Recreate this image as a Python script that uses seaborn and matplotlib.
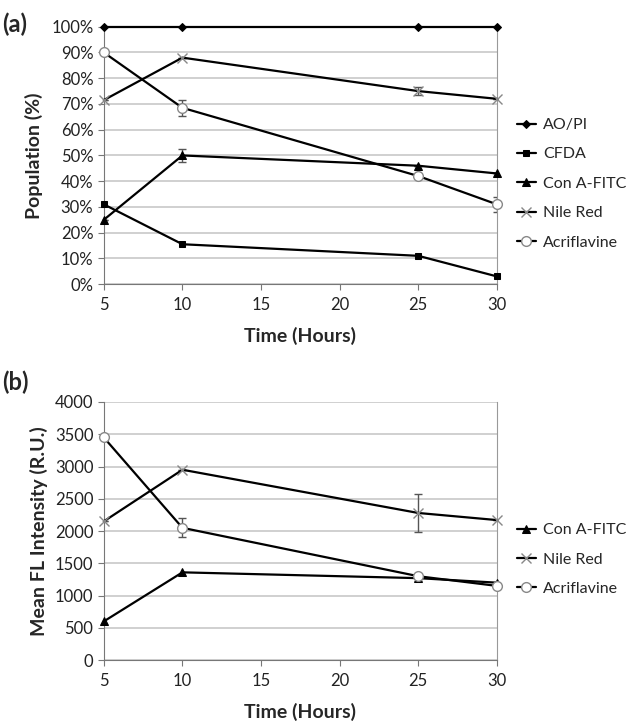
import numpy as np
import matplotlib
matplotlib.use('Agg')
import matplotlib.pyplot as plt
import pandas as pd
import seaborn as sns

hours = [5, 10, 25, 30]

# panel (a): population (%)
pop_aopi = [100, 100, 100, 100]
pop_cfda = [31, 15.5, 11, 3]
pop_cona = [25, 50, 46, 43]
pop_nile = [71.5, 88, 75, 72]
pop_acri = [90, 68.5, 42, 31]
pop_err_cona = [0, 2.5, 0, 0]
pop_err_nile = [0, 0, 1.5, 0]
pop_err_acri = [0, 3, 0, 3]

# panel (b): mean FL intensity (R.U.)
fl_cona = [600, 1360, 1270, 1200]
fl_nile = [2150, 2950, 2280, 2170]
fl_acri = [3450, 2050, 1300, 1150]
fl_err_nile = [0, 0, 300, 0]
fl_err_acri = [0, 150, 0, 0]

sns.set_style('white')
plt.rcParams['font.family'] = ['Lato', 'DejaVu Sans']

STYLE = {
    'AO/PI': dict(marker='D', markersize=4, mfc='black', mec='black'),
    'CFDA': dict(marker='s', markersize=5, mfc='black', mec='black'),
    'Con A-FITC': dict(marker='^', markersize=6, mfc='black', mec='black'),
    'Nile Red': dict(marker='x', markersize=7, mfc='none', mec='#888888', mew=1),
    'Acriflavine': dict(marker='o', markersize=7, mfc='white', mec='#888888', mew=1),
}

fig = plt.figure(figsize=(6.33, 7.23), dpi=100)
ax1 = fig.add_axes([0.164, 0.607, 0.621, 0.356])
ax2 = fig.add_axes([0.164, 0.087, 0.621, 0.357])


def draw(ax, series, errs):
    for name, vals in series.items():
        df = pd.DataFrame({'x': hours, 'y': vals})
        sns.lineplot(data=df, x='x', y='y', ax=ax, color='black', lw=1.6,
                     label=name, zorder=3, clip_on=False, **STYLE[name])
        if name in errs:
            e = np.array(errs[name], dtype=float)
            ax.errorbar(hours, vals, yerr=e, fmt='none', ecolor='#555555',
                        elinewidth=1, capsize=3, zorder=2)
    ax.set_xlim(5, 30)
    ax.set_xticks([5, 10, 15, 20, 25, 30])
    ax.grid(axis='y', color='#c8c8c8', lw=1.2)
    ax.grid(axis='x', visible=False)
    ax.spines['top'].set_visible(False)
    ax.spines['right'].set_color('#999999')
    ax.spines['left'].set_color('#777777')
    ax.spines['bottom'].set_color('#777777')
    ax.tick_params(axis='both', direction='out', length=4, color='#777777',
                   labelsize=12, bottom=True, left=True)
    ax.tick_params(axis='x', pad=5)
    ax.set_xlabel('Time (Hours)', fontsize=14, fontweight='bold', labelpad=10)
    for l in ax.get_xticklabels() + ax.get_yticklabels():
        l.set_color('#222222')
    ax.legend(loc='center left', bbox_to_anchor=(1.03, 0.39), frameon=False,
              fontsize=11.5, handlelength=1.2, labelspacing=0.95,
              handletextpad=0.45, borderaxespad=0.4, borderpad=0.1)


draw(ax1, {'AO/PI': pop_aopi, 'CFDA': pop_cfda, 'Con A-FITC': pop_cona,
           'Nile Red': pop_nile, 'Acriflavine': pop_acri},
     {'Con A-FITC': pop_err_cona, 'Nile Red': pop_err_nile,
      'Acriflavine': pop_err_acri})
ax1.set_ylim(0, 100)
ax1.set_yticks(np.arange(0, 101, 10))
ax1.set_yticklabels([f'{v}%' for v in range(0, 101, 10)])
ax1.set_ylabel('Population (%)', fontsize=14, fontweight='bold', labelpad=6)

draw(ax2, {'Con A-FITC': fl_cona, 'Nile Red': fl_nile, 'Acriflavine': fl_acri},
     {'Nile Red': fl_err_nile, 'Acriflavine': fl_err_acri})
ax2.set_ylim(0, 4000)
ax2.set_yticks(np.arange(0, 4001, 500))
ax2.set_ylabel('Mean FL Intensity (R.U.)', fontsize=14, fontweight='bold', labelpad=5)

fig.text(0.003, 0.955, '(a)', fontsize=17, fontweight='bold')
fig.text(0.003, 0.46, '(b)', fontsize=17, fontweight='bold')

fig.savefig('out.png', dpi=100)
